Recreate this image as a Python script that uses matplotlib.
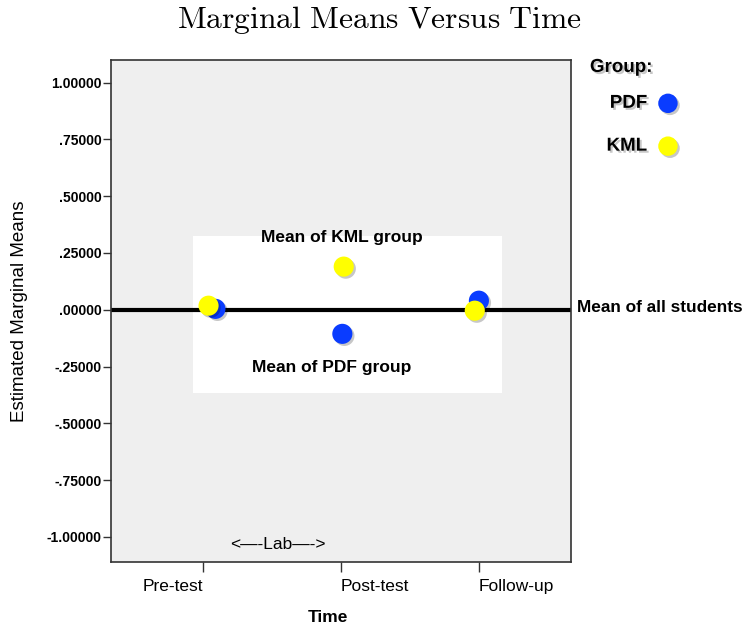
import matplotlib
matplotlib.use('Agg')
import matplotlib.pyplot as plt
import matplotlib.patheffects as pe
from matplotlib.lines import Line2D
from matplotlib.patches import Rectangle

plt.rcParams['font.family'] = ['Liberation Sans', 'DejaVu Sans']
plt.rcParams['mathtext.fontset'] = 'cm'

# Estimated marginal means per group at each time point
times = ['Pre-test', 'Post-test', 'Follow-up']
time_pos = [1, 2, 3]
pdf_x = [1.09, 2.01, 3.00]
pdf_means = [0.004, -0.106, 0.040]
kml_x = [1.04, 2.02, 2.97]
kml_means = [0.018, 0.190, -0.004]
overall_mean = 0.0

groups = ['PDF', 'KML']
group_colors = ['#0a3cff', '#ffff00']

y_ticks = [1.0, 0.75, 0.5, 0.25, 0.0, -0.25, -0.5, -0.75, -1.0]
y_ticklabels = ['1.00000', '.75000', '.50000', '.25000', '.00000',
                '-.25000', '-.50000', '-.75000', '-1.00000']

shadow = [pe.SimplePatchShadow(offset=(1.5, -1.5), shadow_rgbFace='black',
                               alpha=0.22), pe.Normal()]

fig = plt.figure(figsize=(7.43, 6.30), dpi=100)
ax = fig.add_axes([0.1494, 0.108, 0.619, 0.797])
ax.set_facecolor('#efefef')
ax.set_xlim(0.333, 3.667)
ax.set_ylim(-1.11, 1.10)

# white panel behind the means
ax.add_patch(Rectangle((0.928, -0.366), 2.239, 0.692, facecolor='white',
                       edgecolor='none', zorder=1))
ax.axhline(overall_mean, color='black', lw=3, zorder=2)

ax.scatter(pdf_x, pdf_means, s=210, color=group_colors[0], zorder=3,
           edgecolors='none', path_effects=shadow)
ax.scatter(kml_x, kml_means, s=210, color=group_colors[1], zorder=4,
           edgecolors='none', path_effects=shadow)

ax.text(2.01, 0.32, 'Mean of KML group', ha='center', va='center',
        fontsize=12.5, fontweight='bold', zorder=5)
ax.text(1.93, -0.255, 'Mean of PDF group', ha='center', va='center',
        fontsize=12.5, fontweight='bold', zorder=5)
ax.text(1.54, -1.035, '<\u2014-Lab\u2014->', ha='center', va='center',
        fontsize=12.5)
ax.text(3.71, overall_mean + 0.01, 'Mean of all students', ha='left',
        va='center', fontsize=12.4, fontweight='bold', clip_on=False)

ax.set_yticks(y_ticks)
ax.set_yticklabels(y_ticklabels, fontsize=10, fontweight='bold')
ax.set_xticks(time_pos)
ax.set_xticklabels(times, fontsize=12.5)
for lbl, ha in zip(ax.get_xticklabels(), ['right', 'left', 'left']):
    lbl.set_ha(ha)
ax.tick_params(axis='y', length=6, width=1, color='#333333', pad=1)
ax.tick_params(axis='x', length=7, width=1, color='#333333', pad=5)
for sp in ax.spines.values():
    sp.set_color('#333333')
    sp.set_linewidth(1.2)

ax.set_ylabel('Estimated Marginal Means', fontsize=13.5)
ax.yaxis.set_label_coords(-0.18, 0.5)
ax.set_xlabel('Time', fontsize=12.5, fontweight='bold')
ax.xaxis.set_label_coords(0.472, -0.095)

fig.text(0.511, 0.968, r'$\mathrm{Marginal\ Means\ Versus\ Time}$',
         ha='center', va='center', fontsize=22.7)

# group key on the right
fig.text(0.794, 0.893, 'Group:', fontsize=13.5, fontweight='bold',
         va='center', path_effects=shadow)
key_y = [0.836, 0.768]
for name, col, yy in zip(groups, group_colors, key_y):
    fig.text(0.871, yy, name, fontsize=13.5, fontweight='bold',
             ha='right', va='center', path_effects=shadow)
    fig.add_artist(Line2D([0.899], [yy], marker='o', markersize=14,
                          color=col, markeredgewidth=0, linestyle='none',
                          path_effects=shadow))

fig.savefig('out.png', dpi=100, facecolor='white')
